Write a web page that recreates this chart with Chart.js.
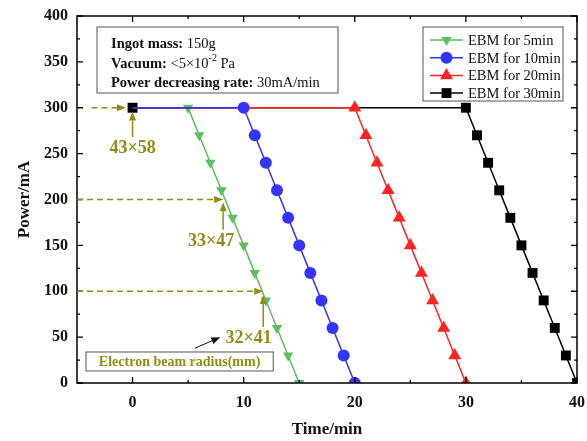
<!DOCTYPE html>
<html>
<head>
<meta charset="utf-8">
<script src="https://cdn.jsdelivr.net/npm/chart.js@4.4.1/dist/chart.umd.min.js"></script>
<style>
  html, body { margin: 0; padding: 0; background: #fff; }
  #wrap { width: 587px; height: 441px; }
</style>
</head>
<body>
<div id="wrap"><canvas id="myChart"></canvas></div>
<script>
// valores (tempo em min, potência em mA)
const t5 = [0, 5, 6, 7, 8, 9, 10, 11, 12, 13, 14, 15];
const p5 = [300, 300, 270, 240, 210, 180, 150, 120, 90, 60, 30, 0];
const t10 = [0, 10, 11, 12, 13, 14, 15, 16, 17, 18, 19, 20];
const p10 = [300, 300, 270, 240, 210, 180, 150, 120, 90, 60, 30, 0];
const t20 = [0, 20, 21, 22, 23, 24, 25, 26, 27, 28, 29, 30];
const p20 = [300, 300, 270, 240, 210, 180, 150, 120, 90, 60, 30, 0];
const t30 = [0, 30, 31, 32, 33, 34, 35, 36, 37, 38, 39, 40];
const p30 = [300, 300, 270, 240, 210, 180, 150, 120, 90, 60, 30, 0];

const seriesNames = ["EBM for 5min", "EBM for 10min", "EBM for 20min", "EBM for 30min"];
const xTicks = [0, 10, 20, 30, 40];
const xMinor = [5, 15, 25, 35];
const yTicks = [0, 50, 100, 150, 200, 250, 300, 350, 400];
const yMinor = [25, 75, 125, 175, 225, 275, 325, 375];

const serif = '"Liberation Serif", "Times New Roman", serif';
const olive = "#958b14";

const green = "#5cbf5c";
const blue = "#3434ff";
const red = "#ff2424";
const black = "#000000";

function pts(ts, ps) {
  return ts.map((t, i) => ({ x: t, y: ps[i] }));
}
// primeiro ponto (t=0) só aparece no quadrado preto
function radii(n, r, hideFirst) {
  const out = [];
  for (let i = 0; i < n; i++) out.push(hideFirst && i === 0 ? 0 : r);
  return out;
}

function marker(ctx, style, r, cx, cy, color) {
  ctx.fillStyle = color;
  ctx.beginPath();
  if (style === "circle") {
    ctx.arc(cx, cy, r, 0, Math.PI * 2);
  } else if (style === "rect") {
    const s = r * Math.SQRT1_2;
    ctx.rect(cx - s, cy - s, 2 * s, 2 * s);
  } else {
    const dir = style === "down" ? -1 : 1;
    ctx.moveTo(cx, cy - dir * r);
    ctx.lineTo(cx - r * 0.866, cy + dir * r * 0.5);
    ctx.lineTo(cx + r * 0.866, cy + dir * r * 0.5);
    ctx.closePath();
  }
  ctx.fill();
}

function arrow(ctx, x1, y1, x2, y2, color, dashed, lw) {
  const ang = Math.atan2(y2 - y1, x2 - x1);
  const hl = 9, hw = 3.5;
  const bx = x2 - hl * Math.cos(ang), by = y2 - hl * Math.sin(ang);
  ctx.strokeStyle = color;
  ctx.lineWidth = lw;
  ctx.setLineDash(dashed ? [6, 4] : []);
  ctx.beginPath();
  ctx.moveTo(x1, y1);
  ctx.lineTo(bx, by);
  ctx.stroke();
  ctx.setLineDash([]);
  ctx.fillStyle = color;
  ctx.beginPath();
  ctx.moveTo(x2, y2);
  ctx.lineTo(bx + hw * Math.sin(ang), by - hw * Math.cos(ang));
  ctx.lineTo(bx - hw * Math.sin(ang), by + hw * Math.cos(ang));
  ctx.closePath();
  ctx.fill();
}

// desenha partes de texto seguidas (negrito / normal / expoente)
function richText(ctx, parts, x, y) {
  let cx = x;
  parts.forEach(p => {
    const size = p.sup ? 10 : 14.5;
    ctx.font = (p.bold ? "bold " : "") + size + "px " + serif;
    ctx.fillText(p.t, cx, p.sup ? y - 6 : y);
    cx += ctx.measureText(p.t).width;
  });
}

const decor = {
  id: "decor",
  afterDraw(chart) {
    const { ctx, chartArea: a, scales } = chart;
    const X = v => scales.x.getPixelForValue(v);
    const Y = v => scales.y.getPixelForValue(v);
    ctx.save();

    // moldura e marcas dos eixos (para dentro)
    ctx.strokeStyle = "#000";
    ctx.lineWidth = 1.5;
    ctx.strokeRect(a.left, a.top, a.right - a.left, a.bottom - a.top);
    ctx.lineWidth = 1.3;
    ctx.beginPath();
    const vt = (v, len) => {
      ctx.moveTo(X(v), a.bottom); ctx.lineTo(X(v), a.bottom - len);
      ctx.moveTo(X(v), a.top); ctx.lineTo(X(v), a.top + len);
    };
    const ht = (v, len) => {
      ctx.moveTo(a.left, Y(v)); ctx.lineTo(a.left + len, Y(v));
      ctx.moveTo(a.right, Y(v)); ctx.lineTo(a.right - len, Y(v));
    };
    xTicks.forEach(v => vt(v, 6));
    xMinor.forEach(v => vt(v, 3));
    yTicks.forEach(v => ht(v, 6));
    yMinor.forEach(v => ht(v, 3));
    ctx.stroke();

    // caixa de informações
    ctx.lineWidth = 1;
    ctx.strokeStyle = "#555";
    ctx.fillStyle = "#fff";
    const bx0 = a.left + 20, by0 = a.top + 11, bw = 241, bh = 66;
    ctx.fillRect(bx0, by0, bw, bh);
    ctx.strokeRect(bx0, by0, bw, bh);
    ctx.fillStyle = "#111";
    ctx.textBaseline = "middle";
    ctx.textAlign = "left";
    const tx = bx0 + 14;
    richText(ctx, [{ t: "Ingot mass: ", bold: true }, { t: "150g" }], tx, by0 + 17);
    richText(ctx, [{ t: "Vacuum: ", bold: true }, { t: "<5×10" }, { t: "-2", sup: true }, { t: " Pa" }], tx, by0 + 37);
    richText(ctx, [{ t: "Power decreasing rate: ", bold: true }, { t: "30mA/min" }], tx, by0 + 56);

    // legenda
    const styles = [["down", 6, green], ["circle", 6, blue], ["up", 7.5, red], ["rect", 7, black]];
    const lx0 = a.right - 154, ly0 = a.top + 11, lw = 140, lh = 74;
    ctx.fillStyle = "#fff";
    ctx.fillRect(lx0, ly0, lw, lh);
    ctx.strokeStyle = "#555";
    ctx.strokeRect(lx0, ly0, lw, lh);
    seriesNames.forEach((name, i) => {
      const ry = ly0 + 13 + i * 17.7;
      const [st, r, col] = styles[i];
      ctx.strokeStyle = col;
      ctx.lineWidth = 1.5;
      ctx.beginPath();
      ctx.moveTo(lx0 + 7, ry);
      ctx.lineTo(lx0 + 40, ry);
      ctx.stroke();
      marker(ctx, st, r, lx0 + 23.5, ry, col);
      ctx.fillStyle = "#111";
      ctx.font = "14.5px " + serif;
      ctx.fillText(name, lx0 + 45, ry + 1);
    });

    // setas do raio do feixe
    arrow(ctx, X(-3.7), Y(300), X(-0.6), Y(300), olive, true, 1.5);
    arrow(ctx, X(0), Y(268), X(0), Y(296), olive, false, 1.5);
    arrow(ctx, X(-5), Y(200), X(8.15), Y(200), olive, true, 1.5);
    arrow(ctx, X(8.15), Y(167), X(8.15), Y(197), olive, false, 1.5);
    arrow(ctx, X(-5), Y(100), X(11.76), Y(100), olive, true, 1.5);
    arrow(ctx, X(11.76), Y(61), X(11.76), Y(96), olive, false, 1.5);
    arrow(ctx, X(5.63), Y(38), X(7.9), Y(50), "#111", false, 1);

    ctx.fillStyle = olive;
    ctx.textAlign = "center";
    ctx.font = "bold 18px " + serif;
    ctx.fillText("43×58", X(0), Y(256));
    ctx.fillText("33×47", X(7.07), Y(154));
    ctx.fillText("32×41", X(10.45), Y(49));

    ctx.fillStyle = "#fff";
    ctx.fillRect(X(-4.19), Y(33.8), X(12.66) - X(-4.19), Y(13.1) - Y(33.8));
    ctx.strokeStyle = "#555";
    ctx.lineWidth = 1;
    ctx.strokeRect(X(-4.19), Y(33.8), X(12.66) - X(-4.19), Y(13.1) - Y(33.8));
    ctx.fillStyle = olive;
    ctx.font = "bold 14px " + serif;
    ctx.fillText("Electron beam radius(mm)", (X(-4.19) + X(12.66)) / 2, (Y(33.8) + Y(13.1)) / 2 + 1);

    ctx.restore();
  }
};

const ctx = document.getElementById("myChart");

new Chart(ctx, {
  type: "line",
  data: {
    datasets: [
      {
        label: seriesNames[0], data: pts(t5, p5), order: 4,
        borderColor: green, backgroundColor: green, borderWidth: 1.5,
        pointStyle: "triangle", pointRotation: 180, pointRadius: radii(t5.length, 6, true),
        pointBorderWidth: 0
      },
      {
        label: seriesNames[1], data: pts(t10, p10), order: 1,
        borderColor: blue, backgroundColor: blue, borderWidth: 1.5,
        pointStyle: "circle", pointRadius: radii(t10.length, 6, true),
        pointBorderWidth: 0
      },
      {
        label: seriesNames[2], data: pts(t20, p20), order: 2,
        borderColor: red, backgroundColor: red, borderWidth: 1.5,
        pointStyle: "triangle", pointRadius: radii(t20.length, 7.5, true),
        pointBorderWidth: 0
      },
      {
        label: seriesNames[3], data: pts(t30, p30), order: 3,
        borderColor: black, backgroundColor: black, borderWidth: 1.5,
        pointStyle: "rect", pointRadius: radii(t30.length, 7, false),
        pointBorderWidth: 0
      }
    ]
  },
  options: {
    responsive: true,
    maintainAspectRatio: false,
    animation: false,
    devicePixelRatio: 1,
    layout: { padding: { top: 16, right: 10, left: 0, bottom: 0 } },
    plugins: { legend: { display: false }, tooltip: { enabled: false } },
    scales: {
      x: {
        type: "linear", min: -5, max: 40,
        grid: { display: false, drawTicks: false },
        border: { display: false },
        afterBuildTicks: s => { s.ticks = xTicks.map(v => ({ value: v })); },
        afterFit: s => { s.height = 58; s.paddingLeft = 0; s.paddingRight = 0; },
        ticks: { color: "#111", padding: 10, font: { family: serif, size: 16, weight: "bold" } },
        title: { display: true, text: "Time/min", color: "#111", padding: { top: 0, bottom: 1 },
                 font: { family: serif, size: 17, weight: "bold" } }
      },
      y: {
        type: "linear", min: 0, max: 400,
        grid: { display: false, drawTicks: false },
        border: { display: false },
        afterBuildTicks: s => { s.ticks = yTicks.map(v => ({ value: v })); },
        afterFit: s => { s.width = 77; s.paddingTop = 0; s.paddingBottom = 0; },
        ticks: { color: "#111", padding: 9, font: { family: serif, size: 16, weight: "bold" } },
        title: { display: true, text: "Power/mA", color: "#111", padding: { top: 14, bottom: 0 },
                 font: { family: serif, size: 17, weight: "bold" } }
      }
    }
  },
  plugins: [decor]
});
</script>
</body>
</html>
